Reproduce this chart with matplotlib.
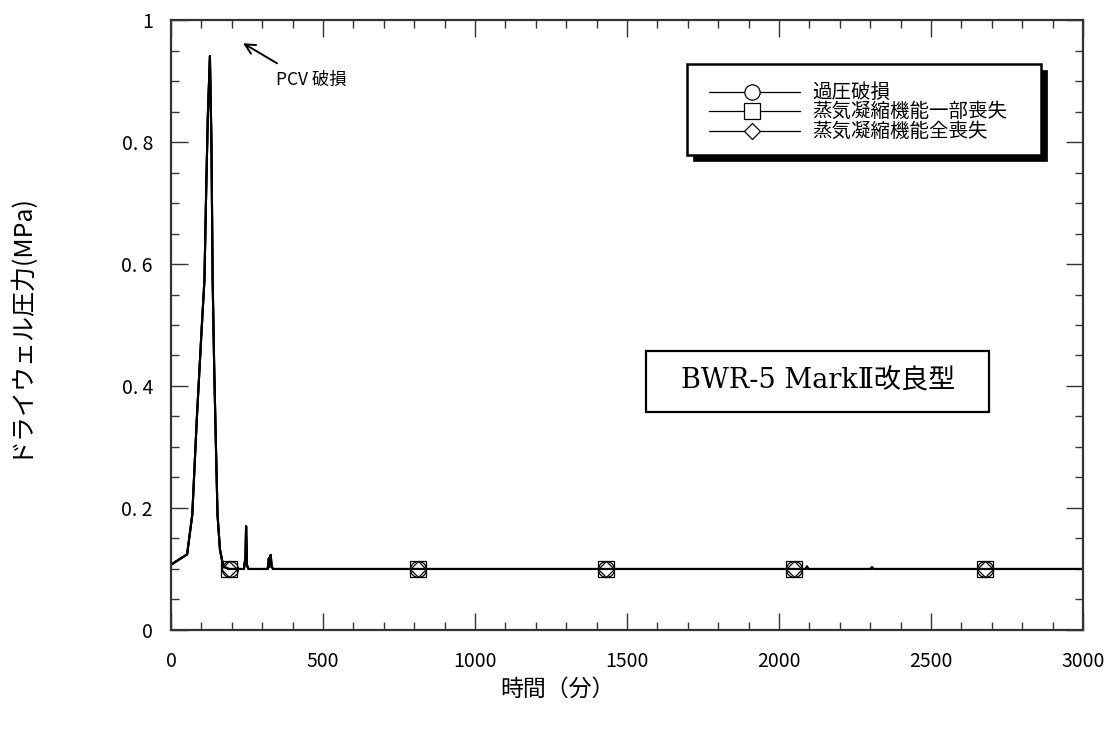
import matplotlib

matplotlib.use("Agg")
import matplotlib.pyplot as plt
import numpy as np
from matplotlib.patches import Rectangle
from matplotlib.ticker import FixedLocator, MultipleLocator

plt.rcParams["font.family"] = ["Noto Sans CJK JP", "DejaVu Sans"]

# drywell pressure history (time in min, pressure in MPa)
time_min = [0, 53, 70, 85, 101, 110, 116, 121, 128, 133, 137, 142, 147, 153,
            161, 172, 190, 240, 245, 247, 250, 255, 318, 322, 325, 328, 331,
            336, 812, 1430, 2048, 2088, 2092, 2096, 2302, 2306, 2310, 2678, 3000]
pressure_mpa = [0.107, 0.124, 0.189, 0.347, 0.495, 0.574, 0.727, 0.84, 0.941,
                0.80, 0.574, 0.432, 0.319, 0.189, 0.132, 0.104, 0.1, 0.1,
                0.12, 0.170, 0.106, 0.1, 0.1, 0.118, 0.104, 0.123, 0.104, 0.1,
                0.1, 0.1, 0.1, 0.1, 0.104, 0.1, 0.1, 0.103, 0.1, 0.1, 0.1]

series_labels = ["過圧破損", "蒸気凝縮機能一部喪失", "蒸気凝縮機能全喪失"]
series_markers = ["o", "s", "D"]
marker_sizes = [11.5, 12, 8.5]
marker_times = [
    [195, 812, 1430, 2048, 2678],
    [190, 812, 1430, 2048, 2678],
    [190, 812, 1430, 2048, 2678],
]

x_ticks = [0, 500, 1000, 1500, 2000, 2500, 3000]
y_ticks = [0, 0.2, 0.4, 0.6, 0.8, 1.0]
y_tick_labels = ["0", "0. 2", "0. 4", "0. 6", "0. 8", "1"]

fig = plt.figure(figsize=(11.14, 7.31), dpi=100)
ax = fig.add_axes([0.1535, 0.1382, 0.8187, 0.8344])

for label, marker, ms, mtimes in zip(series_labels, series_markers,
                                     marker_sizes, marker_times):
    t = np.array(time_min, dtype=float)
    p = np.array(pressure_mpa, dtype=float)
    t_all = np.concatenate([t, mtimes])
    p_all = np.concatenate([p, np.interp(mtimes, t, p)])
    order = np.argsort(t_all, kind="stable")
    t_all, p_all = t_all[order], p_all[order]
    idx = [int(np.where(t_all == m)[0][0]) for m in mtimes]
    ax.plot(t_all, p_all, color="black", lw=1.5, marker=marker, ms=ms,
            mfc="none", mec="black", mew=0.9, markevery=idx, label=label)

ax.set_xlim(0, 3000)
ax.set_ylim(0, 1)
ax.xaxis.set_major_locator(FixedLocator(x_ticks))
ax.xaxis.set_minor_locator(MultipleLocator(100))
ax.yaxis.set_major_locator(FixedLocator(y_ticks))
ax.yaxis.set_minor_locator(MultipleLocator(0.05))
ax.set_yticklabels(y_tick_labels)
ax.tick_params(which="both", direction="in", top=True, right=True,
               color="#333333", width=1.0, labelsize=14)
ax.tick_params(which="major", length=12)
ax.tick_params(which="minor", length=6)
ax.tick_params(axis="x", which="major", pad=15)
ax.tick_params(axis="y", which="major", pad=13)
for spine in ax.spines.values():
    spine.set_linewidth(1.6)
    spine.set_color("#333333")

ax.set_xlabel("時間（分）", fontsize=16.5)
ax.set_ylabel("ドライウェル圧力(MPa)", fontsize=18)
ax.xaxis.set_label_coords(0.424, -0.078)
ax.yaxis.set_label_coords(-0.153, 0.5)

# breach annotation
ax.annotate("", xy=(237, 0.962), xytext=(349, 0.929),
            arrowprops=dict(arrowstyle="->", color="black", lw=1.4,
                            shrinkA=0, shrinkB=0, mutation_scale=18))
ax.text(460, 0.9016, "PCV 破損", fontsize=12.5, ha="center", va="center")

# plant type box
ax.add_patch(Rectangle((0.5208, 0.3574), 0.3762, 0.1, transform=ax.transAxes,
                       fc="white", ec="black", lw=1.6, zorder=4))
ax.text(0.709, 0.4074, "BWR-5 MarkⅡ改良型", transform=ax.transAxes,
        ha="center", va="center", fontsize=19.5, zorder=5,
        family=["DejaVu Serif", "Noto Sans CJK JP"])

# legend box with a black drop shadow
lx0, lx1, ly0, ly1 = 0.5658, 0.9539, 0.7787, 0.9279
sdx, sdy = 0.0068, 0.0105
ax.add_patch(Rectangle((lx0 + sdx, ly0 - sdy), lx1 - lx0, ly1 - ly0,
                       transform=ax.transAxes, fc="black", ec="black",
                       lw=0.5, zorder=6))
ax.add_patch(Rectangle((lx0, ly0), lx1 - lx0, ly1 - ly0,
                       transform=ax.transAxes, fc="white", ec="black",
                       lw=1.8, zorder=7))
row_y = [0.882, 0.8505, 0.818]
for y, label, marker, ms in zip(row_y, series_labels, series_markers,
                                [11, 11, 8]):
    ax.plot([0.5899, 0.6897], [y, y], transform=ax.transAxes, color="black",
            lw=0.9, zorder=8)
    ax.plot([0.6371], [y], transform=ax.transAxes, marker=marker, ms=ms,
            mfc="white", mec="black", mew=0.9, ls="none", zorder=9)
    ax.text(0.7035, y, label, transform=ax.transAxes, fontsize=14,
            ha="left", va="center", zorder=9)

fig.savefig("out.png", dpi=100)
